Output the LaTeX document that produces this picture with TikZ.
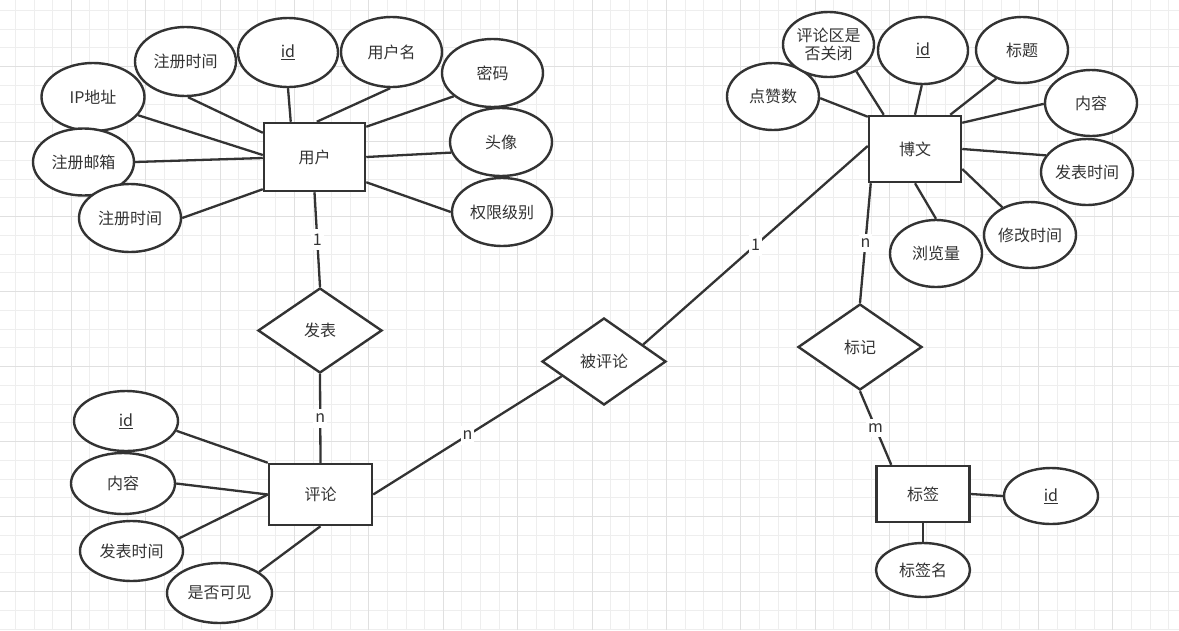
\documentclass[tikz,border=0pt]{standalone}
\usepackage{fontspec}
\setmainfont{Noto Sans CJK SC}
\usetikzlibrary{shapes.geometric,calc}
\definecolor{ln}{HTML}{333333}
\definecolor{txt}{HTML}{333333}
\definecolor{gridminor}{HTML}{EEEEEE}
\definecolor{gridmajor}{HTML}{E0E0E0}
\begin{document}
\begin{tikzpicture}[x=1pt,y=-1pt,
  every node/.style={font=\fontsize{16}{19}\selectfont, text=txt},
  ent/.style={draw=ln, line width=2.5pt, fill=white, inner sep=0pt},
  attr/.style={ellipse, draw=ln, line width=2.4pt, fill=white, inner sep=0pt, align=center},
  rel/.style={diamond, draw=ln, line width=2.4pt, fill=white, inner sep=0pt},
  con/.style={draw=ln, line width=2.3pt},
  lbl/.style={fill=white, inner xsep=2pt, inner ysep=5pt},
  gmin/.style={draw=gridminor, line width=1pt},
  gmaj/.style={draw=gridmajor, line width=1pt}]
\useasboundingbox (0,0) rectangle (1179,630);
\fill[white] (0,0) rectangle (1179,630);
% grid
\foreach \i in {0,...,62} { \draw[gmin] ({15.5+18.6*\i},0) -- ({15.5+18.6*\i},630); }
\foreach \i in {0,...,33} { \draw[gmin] (0,{10.3+18.75*\i}) -- (1179,{10.3+18.75*\i}); }
\foreach \i in {0,...,14} { \draw[gmaj] ({71.3+74.4*\i},0) -- ({71.3+74.4*\i},630); }
\foreach \i in {0,...,7} { \draw[gmaj] (0,{66.55+75*\i}) -- (1179,{66.55+75*\i}); }

% user entity and attributes
\node[ent, minimum width=101, minimum height=68] (u) at (314.5,157) {用户};
\node[attr, minimum width=103, minimum height=68] (a7) at (93,97) {IP地址};
\node[attr, minimum width=101, minimum height=67] (a8) at (83.5,162) {注册邮箱};
\node[attr, minimum width=102, minimum height=68] (a9) at (130,218) {注册时间};
\node[attr, minimum width=101, minimum height=69] (a1) at (185.5,61.5) {注册时间};
\node[attr, minimum width=100, minimum height=69] (a2) at (288,52.5) {\underline{id}};
\node[attr, minimum width=101, minimum height=70] (a3) at (391.5,52) {用户名};
\node[attr, minimum width=101, minimum height=68] (a4) at (492.5,73) {密码};
\node[attr, minimum width=102, minimum height=68] (a5) at (501,142) {头像};
\node[attr, minimum width=100, minimum height=68] (a6) at (502,212) {权限级别};

\draw[con] (a1.-86) -- ($(u.north west)+(0,11)$);
\draw[con] (a2.-90) -- ($(u.north west)+(28,0)$);
\draw[con] (a3.-92) -- ($(u.north west)+(54,0)$);
\draw[con] (a4.-149) -- ($(u.north east)+(0,5)$);
\draw[con] (a5.192) -- (u.east);
\draw[con] (a6.180) -- ($(u.south east)+(0,-10)$);
\draw[con] (a7.-22) -- ($(u.west)+(0,-2)$);
\draw[con] (a8.0) -- ($(u.west)+(0,1)$);
\draw[con] (a9.0) -- ($(u.south west)+(0,-3)$);

% comment entity and attributes
\node[ent, minimum width=103, minimum height=61] (pl) at (320.5,494.5) {评论};
\node[attr, minimum width=104, minimum height=60] (c1) at (126,421) {\underline{id}};
\node[attr, minimum width=104, minimum height=61] (c2) at (123,483.5) {内容};
\node[attr, minimum width=103, minimum height=60] (c3) at (131.5,551) {发表时间};
\node[attr, minimum width=105, minimum height=60] (c4) at (219.5,593) {是否可见};

\draw[con] (c1.-11) -- (pl.north west);
\draw[con] (c2.0) -- (pl.west);
\draw[con] (c3.15) -- (pl.west);
\draw[con] (c4.28) -- (pl.south);

% relations
\node[rel, minimum width=124, minimum height=85] (fb) at (320,330.5) {发表};
\node[rel, minimum width=124, minimum height=87] (bp) at (604,361.5) {被评论};
\node[rel, minimum width=124, minimum height=86] (bj) at (860,347) {标记};

% blog entity and attributes
\node[ent, minimum width=92, minimum height=66] (bw) at (915,149) {博文};
\node[attr, minimum width=92, minimum height=67] (b1) at (773,96.5) {点赞数};
\node[attr, minimum width=91, minimum height=65, font=\fontsize{16}{18}\selectfont] (b2) at (828.5,44.5) {评论区是\\否关闭};
\node[attr, minimum width=90, minimum height=67] (b3) at (923,50.5) {\underline{id}};
\node[attr, minimum width=92, minimum height=66] (b4) at (1022,50) {标题};
\node[attr, minimum width=92, minimum height=66] (b5) at (1091,103) {内容};
\node[attr, minimum width=92, minimum height=66] (b6) at (1087,172) {发表时间};
\node[attr, minimum width=92, minimum height=66] (b7) at (1030,235) {修改时间};
\node[attr, minimum width=92, minimum height=67] (b8) at (936,253.5) {浏览量};

\draw[con] (b1.-2) -- ($(bw.north west)+(0,2)$);
\draw[con] (b2.-44) -- ($(bw.north west)+(16,0)$);
\draw[con] (b3.-92) -- (bw.north);
\draw[con] (b4.-132) -- ($(bw.north east)+(-12,0)$);
\draw[con] (b5.181) -- ($(bw.north east)+(0,8)$);
\draw[con] (b6.158) -- (bw.east);
\draw[con] (b7.135) -- ($(bw.east)+(0,20)$);
\draw[con] (b8.90) -- (bw.south);

% tag entity and attributes
\node[ent, minimum width=93, minimum height=56] (bq) at (923,494) {标签};
\node[attr, minimum width=94, minimum height=56] (t1) at (1051,496) {\underline{id}};
\node[attr, minimum width=94, minimum height=54] (t2) at (923,570) {标签名};
\draw[con] (bq.east) -- (t1.west);
\draw[con] (bq.south) -- (t2.north);

% relationship connectors
\draw[con] (u.south) -- node[lbl]{1} (fb.north);
\draw[con] (fb.south) -- node[lbl]{n} (pl.north);
\draw[con] (pl.east) -- node[lbl]{n} ($(bp.west)!0.33!(bp.south)$);
\draw[con] ($(bp.north)!0.62!(bp.east)$) -- node[lbl]{1} ($(bw.west)+(0,-3)$);
\draw[con] ($(bw.south west)+(3,0)$) -- node[lbl]{n} (bj.north);
\draw[con] (bj.south) -- node[lbl]{m} ($(bq.north west)+(16,0)$);
\end{tikzpicture}
\end{document}
